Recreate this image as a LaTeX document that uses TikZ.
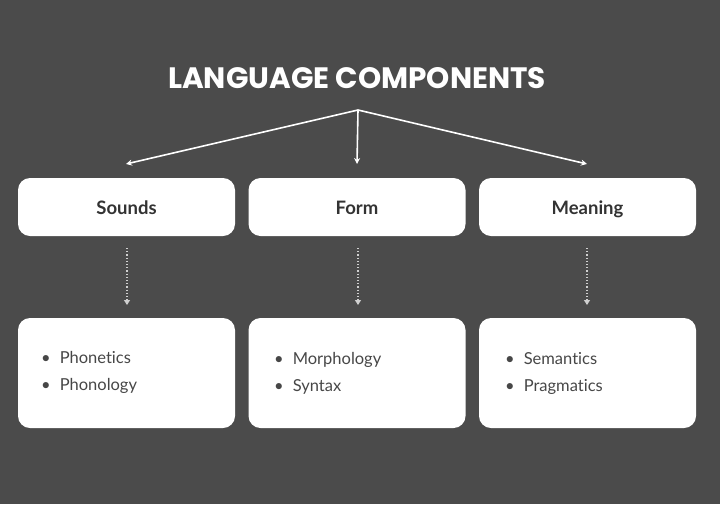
\documentclass[tikz,border=0pt]{standalone}
\usepackage{fontspec}
\setmainfont[Ligatures=NoCommon]{Lato}
\newfontfamily\titlefont{Poppins}
\usetikzlibrary{arrows.meta}
\definecolor{bg}{HTML}{4B4B4B}
\definecolor{txt}{HTML}{333333}
\definecolor{btxt}{HTML}{474747}
\definecolor{dotc}{HTML}{D0D0D0}
\tikzset{
  topbox/.style={fill=white, rounded corners=12pt, minimum width=217pt, minimum height=58pt, inner sep=0pt,
    font=\fontsize{18.5}{22}\selectfont\bfseries, text=txt, text height=15pt, text depth=0pt},
  botbox/.style={fill=white, rounded corners=12pt, minimum width=217pt, minimum height=110pt, inner sep=0pt},
  itemtxt/.style={anchor=base west, inner sep=0pt, font=\fontsize{16.5}{20}\selectfont, text=btxt},
  mainarrow/.style={draw=white, line width=1.6pt, -{Stealth[length=6pt,width=6pt]}},
  dotarrow/.style={draw=dotc, line width=1.2pt, dotted, -{Triangle[length=5pt,width=6pt]}}
}
\begin{document}
\begin{tikzpicture}[x=1pt,y=-1pt]
\fill[bg] (0,0) rectangle (720,504);
\useasboundingbox (0,0) rectangle (720,504);
\node[text=white, font=\titlefont\fontsize{29.5}{34}\selectfont\bfseries] (title) at (357,78) {LANGUAGE COMPONENTS};
\coordinate (root) at (358,110);
\coordinate (t1) at (126,164);
\coordinate (t2) at (357,164);
\coordinate (t3) at (587,164);
\draw[mainarrow] (root) -- (t1);
\draw[mainarrow] (root) -- (t2);
\draw[mainarrow] (root) -- (t3);

\node[topbox] (sounds) at (126.5,207) {Sounds};
\node[topbox] (form) at (357,207) {Form};
\node[topbox] (meaning) at (587.5,207) {Meaning};

\node[botbox] (b1) at (126.5,373) {};
\node[botbox] (b2) at (357,373) {};
\node[botbox] (b3) at (587.5,373) {};

\coordinate (s1) at (127,248);
\coordinate (s2) at (358,248);
\coordinate (s3) at (587,248);
\coordinate (e1) at (127,305);
\coordinate (e2) at (358,305);
\coordinate (e3) at (587,305);
\draw[dotarrow] (s1) -- (e1);
\draw[dotarrow] (s2) -- (e2);
\draw[dotarrow] (s3) -- (e3);

\node[itemtxt] (i11) at (41,363) {\textbullet\hspace{9pt}Phonetics};
\node[itemtxt] (i12) at (41,390) {\textbullet\hspace{9pt}Phonology};
\node[itemtxt] (i21) at (274,364) {\textbullet\hspace{9pt}Morphology};
\node[itemtxt] (i22) at (274,391) {\textbullet\hspace{9pt}Syntax};
\node[itemtxt] (i31) at (505,364) {\textbullet\hspace{9pt}Semantics};
\node[itemtxt] (i32) at (505,391) {\textbullet\hspace{9pt}Pragmatics};
\end{tikzpicture}
\end{document}
